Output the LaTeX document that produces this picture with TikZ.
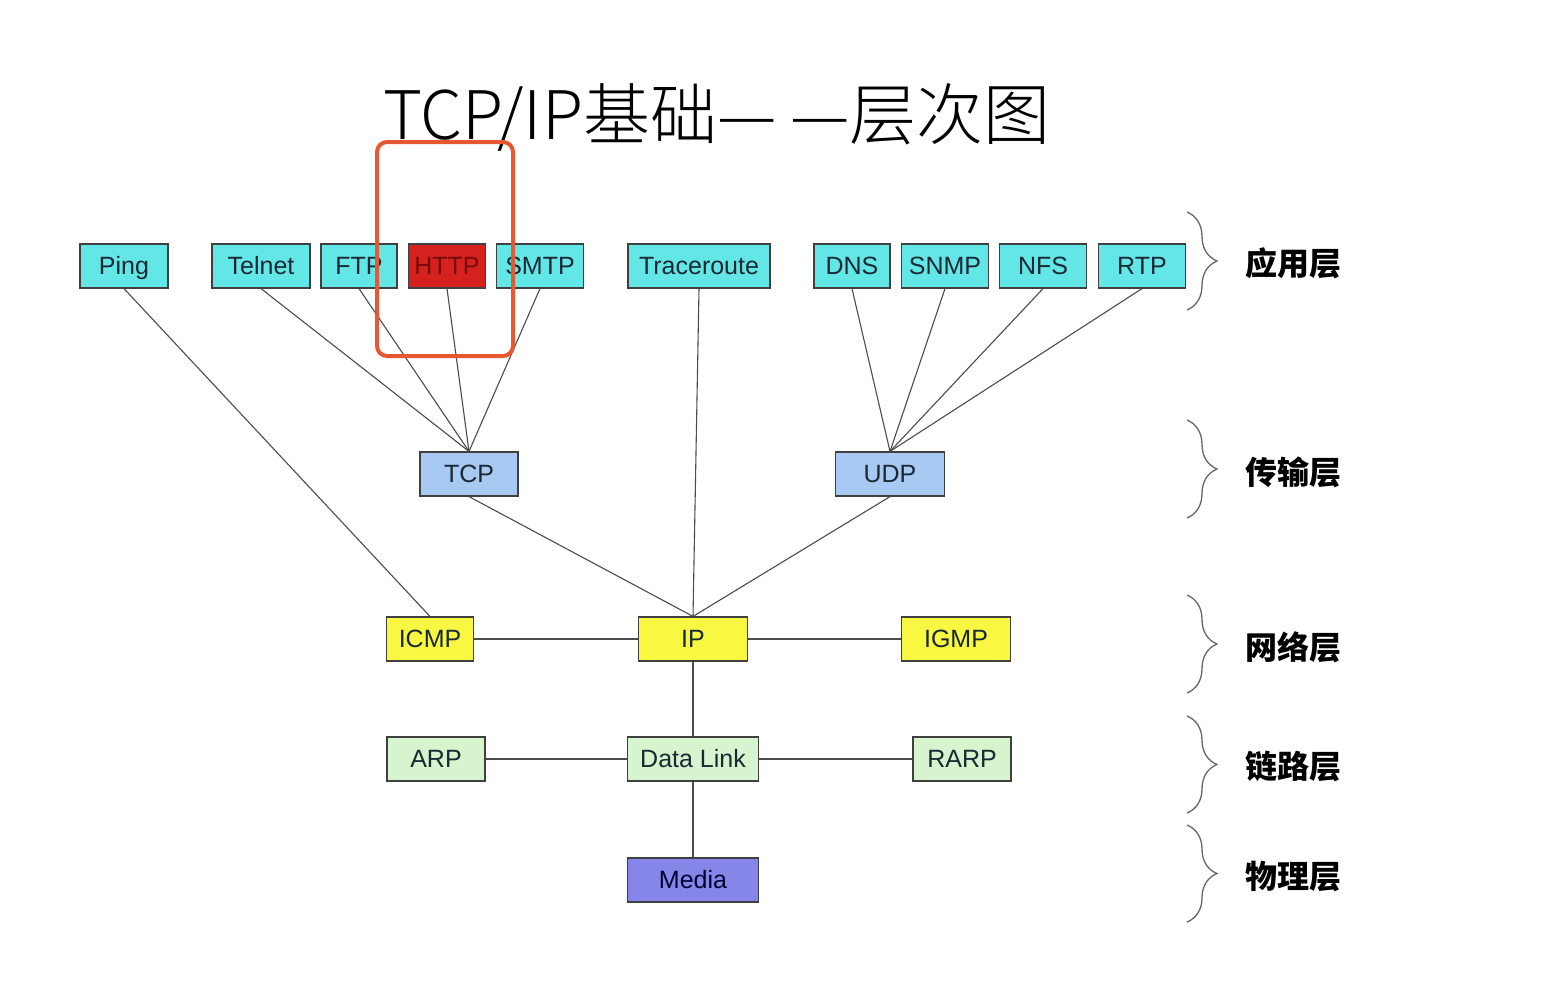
\documentclass[tikz,border=0pt]{standalone}
\usepackage{fontspec}
\setmainfont{Liberation Sans}
\newfontfamily\cjk{Noto Sans CJK SC}
\newfontfamily\cjklight{Noto Sans CJK SC Light}
\usetikzlibrary{decorations.pathreplacing}
\definecolor{appc}{RGB}{98,230,230}
\definecolor{httpc}{RGB}{214,34,30}
\definecolor{httpt}{RGB}{120,10,10}
\definecolor{trc}{RGB}{168,202,242}
\definecolor{netc}{RGB}{248,248,66}
\definecolor{linkc}{RGB}{214,244,206}
\definecolor{mediac}{RGB}{134,134,232}
\definecolor{hlc}{RGB}{232,88,48}
\definecolor{boxt}{RGB}{25,40,50}
\begin{document}
\begin{tikzpicture}[x=1pt,y=-1pt,
  box/.style={draw=black!75, line width=1.2pt, minimum height=44pt, inner sep=0pt,
    text height=17.5pt, text depth=0pt,
    font=\fontsize{25}{25}\selectfont, text=boxt},
  app/.style={box, fill=appc},
  trans/.style={box, fill=trc},
  net/.style={box, fill=netc},
  lnk/.style={box, fill=linkc},
  conn/.style={draw=black!70, line width=1.1pt},
  layerbrace/.style={draw=black!60, line width=1.3pt, decorate, decoration={brace, amplitude=30pt, aspect=0.5}},
  layerlabel/.style={anchor=west, font=\cjk\bfseries\fontsize{32}{32}\selectfont, text=black}
]
\useasboundingbox[fill=white] (0,0) rectangle (1546,986);

% title
\node[font=\cjklight\fontsize{67}{67}\selectfont, text=black] (title) at (717,117) {TCP/IP基础—\hspace{14pt}—层次图};

% application layer
\node[app, minimum width=88pt]  (ping)   at (124,266) {Ping};
\node[app, minimum width=98pt]  (telnet) at (261,266) {Telnet};
\node[app, minimum width=76pt]  (ftp)    at (359,266) {FTP};
\node[box, fill=httpc, text=httpt, minimum width=77pt] (http) at (447,266) {HTTP};
\node[app, minimum width=87pt]  (smtp)   at (540,266) {SMTP};
\node[app, minimum width=142pt] (trace)  at (699,266) {Traceroute};
\node[app, minimum width=76pt]  (dns)    at (852,266) {DNS};
\node[app, minimum width=87pt]  (snmp)   at (945,266) {SNMP};
\node[app, minimum width=87pt]  (nfs)    at (1043,266) {NFS};
\node[app, minimum width=87pt]  (rtp)    at (1142,266) {RTP};

% transport
\node[trans, minimum width=98pt]  (tcp) at (469,474) {TCP};
\node[trans, minimum width=109pt] (udp) at (890,474) {UDP};

% network
\node[net, minimum width=87pt]  (icmp) at (430,639) {ICMP};
\node[net, minimum width=109pt] (ip)   at (693,639) {IP};
\node[net, minimum width=109pt] (igmp) at (956,639) {IGMP};

% link
\node[lnk, minimum width=98pt]  (arp)  at (436,759) {ARP};
\node[lnk, minimum width=131pt] (dl)   at (693,759) {Data Link};
\node[lnk, minimum width=98pt]  (rarp) at (962,759) {RARP};

% physical
\node[box, fill=mediac, text=black!80!blue, minimum width=131pt] (media) at (693,880) {Media};

% connectors
\draw[conn] (ping.south) -- (icmp.north);
\draw[conn] (telnet.south) -- (tcp.north);
\draw[conn] (ftp.south) -- (tcp.north);
\draw[conn] (http.south) -- (tcp.north);
\draw[conn] (smtp.south) -- (tcp.north);
\draw[conn] (trace.south) -- (ip.north);
\draw[conn] (dns.south) -- (udp.north);
\draw[conn] (snmp.south) -- (udp.north);
\draw[conn] (nfs.south) -- (udp.north);
\draw[conn] (rtp.south) -- (udp.north);
\draw[conn] (tcp.south) -- (ip.north);
\draw[conn] (udp.south) -- (ip.north);
\draw[conn] (icmp.east) -- (ip.west);
\draw[conn] (ip.east) -- (igmp.west);
\draw[conn] (ip.south) -- (dl.north);
\draw[conn] (arp.east) -- (dl.west);
\draw[conn] (dl.east) -- (rarp.west);
\draw[conn] (dl.south) -- (media.north);

% highlight
\draw[hlc, line width=4pt, rounded corners=10pt] (377,142) rectangle (513,356);

% braces and layer labels
\draw[layerbrace] (1187,212) -- (1187,310);
\draw[layerbrace] (1187,420) -- (1187,518);
\draw[layerbrace] (1187,595) -- (1187,693);
\draw[layerbrace] (1187,716) -- (1187,813);
\draw[layerbrace] (1187,825) -- (1187,922);
\node[layerlabel] (l1) at (1242,263) {应用层};
\node[layerlabel] (l2) at (1242,472) {传输层};
\node[layerlabel] (l3) at (1242,647) {网络层};
\node[layerlabel] (l4) at (1242,766) {链路层};
\node[layerlabel] (l5) at (1242,877) {物理层};
\end{tikzpicture}
\end{document}
